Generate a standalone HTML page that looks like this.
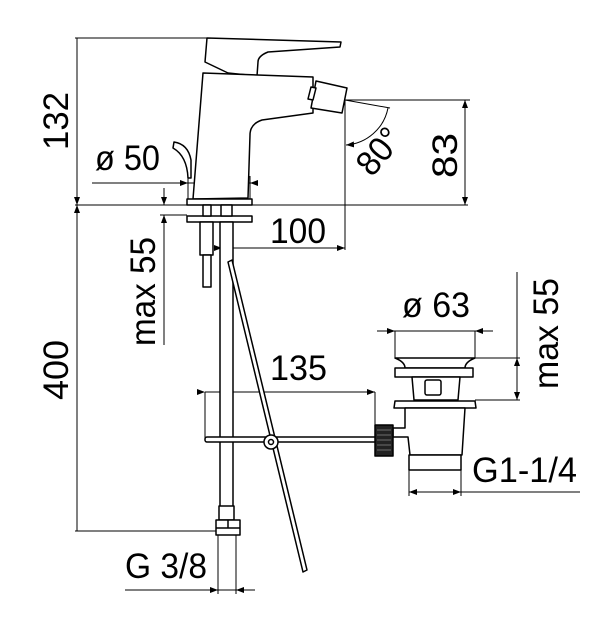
<!DOCTYPE html>
<html><head><style>
html,body{margin:0;padding:0;background:#fff;}
svg{display:block;}
text{font-family:"Liberation Sans",sans-serif;fill:#000;}
</style></head><body>
<svg width="610" height="631" viewBox="0 0 610 631" xmlns="http://www.w3.org/2000/svg">
<defs>
<marker id="a" markerWidth="8" markerHeight="6" refX="8" refY="3" orient="auto" markerUnits="userSpaceOnUse"><path d="M0,0 L8,3 L0,6 z" fill="#000"/></marker>
</defs>
<g stroke="#000" stroke-width="1" fill="none">
<line x1="75" y1="38" x2="207" y2="38"/>
<line x1="75" y1="205" x2="468" y2="205"/>
<line x1="75" y1="531" x2="217" y2="531"/>
<line x1="77" y1="38" x2="77" y2="531"/>
<line x1="77" y1="195" x2="77" y2="205" marker-end="url(#a)"/>
<line x1="77" y1="215" x2="77" y2="205" marker-end="url(#a)"/>
<line x1="345" y1="100" x2="470" y2="100"/>
<line x1="465" y1="110" x2="465" y2="100" marker-end="url(#a)"/>
<line x1="465" y1="195" x2="465" y2="205" marker-end="url(#a)"/>
<line x1="465" y1="100" x2="465" y2="205"/>
<line x1="345" y1="100" x2="345" y2="250"/>
<line x1="345" y1="100" x2="390" y2="108"/>
<path d="M388,108 A46,46 0 0 1 346,145" marker-end="url(#a)"/>
<line x1="222" y1="248" x2="345" y2="248" marker-start="url(#a)" marker-end="url(#a)"/>
<line x1="92" y1="183" x2="250" y2="183"/>
<line x1="180" y1="183" x2="188" y2="183" marker-end="url(#a)"/>
<line x1="258" y1="183" x2="250" y2="183" marker-end="url(#a)"/>
<line x1="188" y1="176" x2="188" y2="200"/>
<line x1="250" y1="176" x2="250" y2="200"/>
<line x1="160" y1="215" x2="187" y2="215"/>
<line x1="164" y1="188" x2="164" y2="205" marker-end="url(#a)"/>
<line x1="164" y1="345" x2="164" y2="215" marker-end="url(#a)"/>
<line x1="205" y1="392" x2="375" y2="392" marker-start="url(#a)" marker-end="url(#a)"/>
<line x1="205" y1="392" x2="205" y2="438"/>
<line x1="375" y1="392" x2="375" y2="428"/>
<line x1="377" y1="331" x2="493" y2="331"/>
<line x1="385" y1="331" x2="395" y2="331" marker-end="url(#a)"/>
<line x1="485" y1="331" x2="475" y2="331" marker-end="url(#a)"/>
<line x1="395" y1="331" x2="395" y2="358"/>
<line x1="475" y1="331" x2="475" y2="358"/>
<line x1="475" y1="358" x2="520" y2="358"/>
<line x1="475" y1="400" x2="520" y2="400"/>
<line x1="517" y1="272" x2="517" y2="400"/>
<line x1="517" y1="368" x2="517" y2="358" marker-end="url(#a)"/>
<line x1="517" y1="390" x2="517" y2="400" marker-end="url(#a)"/>
<line x1="409" y1="492" x2="580" y2="492"/>
<line x1="419" y1="492" x2="409" y2="492" marker-end="url(#a)"/>
<line x1="451" y1="492" x2="461" y2="492" marker-end="url(#a)"/>
<line x1="409" y1="470" x2="409" y2="496"/>
<line x1="461" y1="470" x2="461" y2="496"/>
<line x1="125" y1="590" x2="255" y2="590"/>
<line x1="208" y1="590" x2="218" y2="590" marker-end="url(#a)"/>
<line x1="246" y1="590" x2="236" y2="590" marker-end="url(#a)"/>
<line x1="218" y1="535" x2="218" y2="594"/>
<line x1="236" y1="535" x2="236" y2="594"/>
</g>
<g stroke="#000" stroke-width="1.5" fill="#fff" stroke-linejoin="round">
<path d="M207,38 L341,42 L340,47 L268,52 Q258,56 258,62 L257,76 L228,73 L205,62 Z"/>
<path d="M203,73 L313,77 L313,113 L262,120 Q250,124 250,135 L248,198 L193,199 Z"/>
<path d="M316,81 L347,88 L342,113 L311,108 Z"/>
<path d="M311,87 L316,88 L313,100 L308,99 Z"/>
<path d="M174,142 Q188,144 191,160 L191,178 L188,178 Q187,156 173,148 Z"/>
<rect x="187" y="199" width="65" height="6"/>
<rect x="187" y="216" width="65" height="6"/>
<rect x="203" y="205" width="8" height="11"/>
<rect x="221" y="205" width="11" height="11"/>
<rect x="200" y="222" width="13" height="33"/>
<rect x="203" y="255" width="8" height="32"/>
<rect x="220" y="222" width="13" height="290"/>
<path d="M228,262 L232,260 L307,570 L303,572 Z"/>
<rect x="205" y="437" width="172" height="5" rx="2"/>
<circle cx="271" cy="442" r="7"/>
<circle cx="271" cy="442" r="2.5"/>
<rect x="219" y="506" width="15" height="14"/>
<path d="M216,520 L240,520 L240,535 L216,535 Z"/>
<path d="M228,520 L228,528 M216,528 L240,528"/>
<path d="M395,358 L475,358 Q465,362 465,368 L405,368 Q405,362 395,358 Z"/>
<rect x="395" y="368" width="78" height="9"/>
<path d="M412,377 L460,377 L458,400 L414,400 Z"/>
<rect x="425" y="380" width="16" height="15" rx="2"/>
<path d="M395,401 L475,401 L476,408 L394,408 Z"/>
<path d="M405,408 L465,408 L462,455 L410,455 L408,437 L393,437 L393,428 L405,428 Z"/>
<rect x="409" y="455" width="52" height="15"/>
<rect x="375" y="425" width="18" height="31" fill="#222"/>
<path d="M377,430 L391,430 M377,435 L391,435 M377,440 L391,440 M377,445 L391,445 M377,450 L391,450" stroke="#888" stroke-width="0.8"/>
</g>
<g font-size="35">
<text x="95" y="170" textLength="65" lengthAdjust="spacingAndGlyphs">ø 50</text>
<text x="270" y="243" textLength="56" lengthAdjust="spacingAndGlyphs">100</text>
<text x="270" y="380" textLength="57" lengthAdjust="spacingAndGlyphs">135</text>
<text x="402" y="317" textLength="68" lengthAdjust="spacingAndGlyphs">ø 63</text>
<text x="472" y="482" textLength="105" lengthAdjust="spacingAndGlyphs">G1-1/4</text>
<text x="125" y="578" textLength="82" lengthAdjust="spacingAndGlyphs">G 3/8</text>
<text transform="translate(68,150) rotate(-90)" textLength="58" lengthAdjust="spacingAndGlyphs">132</text>
<text transform="translate(68,400) rotate(-90)" textLength="60" lengthAdjust="spacingAndGlyphs">400</text>
<text transform="translate(155,346) rotate(-90)" textLength="109" lengthAdjust="spacingAndGlyphs">max 55</text>
<text transform="translate(558,389) rotate(-90)" textLength="111" lengthAdjust="spacingAndGlyphs">max 55</text>
<text transform="translate(457,178) rotate(-90)" textLength="45" lengthAdjust="spacingAndGlyphs">83</text>
<text transform="translate(372,178) rotate(-50)" textLength="50" lengthAdjust="spacingAndGlyphs">80°</text>
</g>
</svg>
</body></html>
